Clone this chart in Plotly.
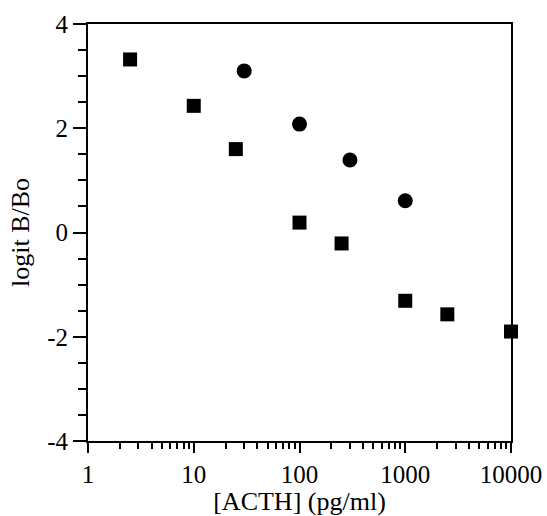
import plotly.graph_objects as go

# Data
sq_x = [2.5, 10, 25, 100, 250, 1000, 2500, 10000]
sq_y = [3.32, 2.43, 1.60, 0.19, -0.21, -1.31, -1.57, -1.90]
ci_x = [30, 100, 300, 1000]
ci_y = [3.10, 2.08, 1.39, 0.61]

x_major = [1, 10, 100, 1000, 10000]
x_labels = ["1", "10", "100", "1000", "10000"]
x_minor = [m * 10 ** k for k in range(4) for m in range(2, 10)]
y_major = [-4, -2, 0, 2, 4]
y_labels = ["-4", "-2", "0", "2", "4"]

FONT = "Liberation Serif, Times New Roman, serif"

fig = go.Figure()
fig.add_trace(go.Scatter(x=sq_x, y=sq_y, mode="markers",
                         marker=dict(symbol="square", size=14, color="black"),
                         cliponaxis=False, showlegend=False))
fig.add_trace(go.Scatter(x=ci_x, y=ci_y, mode="markers",
                         marker=dict(symbol="circle", size=15, color="black"),
                         cliponaxis=False, showlegend=False))

fig.update_layout(
    width=547, height=516,
    margin=dict(l=88, r=36, t=24, b=75),
    paper_bgcolor="white", plot_bgcolor="white",
    font=dict(family=FONT, size=25, color="black"),
)
fig.update_xaxes(
    type="log", range=[0, 4], automargin=False,
    tickvals=x_major, ticktext=x_labels,
    ticks="outside", ticklen=10, tickwidth=2, tickcolor="black",
    minor=dict(tickvals=x_minor, ticks="outside", ticklen=6, tickwidth=2, tickcolor="black"),
    showline=True, linewidth=2, linecolor="black", mirror=True,
    showgrid=False, zeroline=False,
    title=dict(text="[ACTH] (pg/ml)", font=dict(size=26), standoff=4),
    tickfont=dict(size=25),
)
fig.update_yaxes(
    range=[-4, 4], automargin=False,
    tickvals=y_major, ticktext=y_labels,
    ticks="outside", ticklen=13, tickwidth=2, tickcolor="black",
    minor=dict(dtick=0.5, ticks="outside", ticklen=8, tickwidth=2, tickcolor="black"),
    showline=True, linewidth=2, linecolor="black", mirror=True,
    showgrid=False, zeroline=False,
    title=dict(text="logit B/Bo", font=dict(size=26), standoff=10),
    tickfont=dict(size=25),
)

fig.write_html("out.html")
